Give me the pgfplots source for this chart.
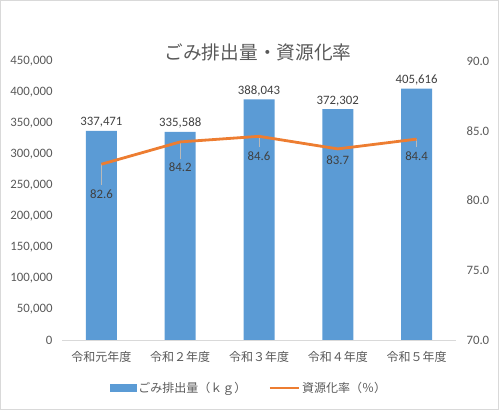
\documentclass[border=0pt]{standalone}
\usepackage{pgfplots}
\pgfplotsset{compat=1.18}
\usepackage{pgfplotstable}
\usepackage{fontspec}
\setmainfont{Carlito}
\newfontfamily\jp{Noto Sans CJK JP}
\definecolor{barblue}{HTML}{5B9BD5}
\definecolor{lineorange}{HTML}{ED7D31}
\definecolor{txt}{HTML}{595959}
\definecolor{lbl}{HTML}{404040}
\definecolor{framec}{HTML}{D9D9D9}

\pgfplotstableread{
x y
0 337471
1 335588
2 388043
3 372302
4 405616
}\bartable

\pgfplotstableread{
x y off e
0 82.6 30 1.51
1 84.2 25 1.22
2 84.6 20 0.79
3 83.7 11 0
4 84.4 17 0.57
}\ratetable

\begin{document}
\begin{tikzpicture}
\draw[framec, line width=1bp] (0.5bp,0.5bp) rectangle (498.5bp,409.5bp);
\node[font=\jp\fontsize{18.67bp}{22bp}\selectfont, text=txt] at (258bp,358bp) {ごみ排出量・資源化率};

\begin{axis}[
  at={(62bp,70bp)}, anchor=south west,
  scale only axis, width=394bp, height=279bp,
  xmin=-0.5, xmax=4.5, ymin=0, ymax=450000,
  xtick={0,1,2,3,4},
  xticklabels={令和元年度,令和２年度,令和３年度,令和４年度,令和５年度},
  ytick={0,50000,100000,150000,200000,250000,300000,350000,400000,450000},
  scaled y ticks=false,
  /pgf/number format/assume math mode=true,
  axis x line*=bottom, axis y line*=left,
  y axis line style={draw=none},
  x axis line style={draw=framec, line width=0.75bp, -},
  major tick length=0pt,
  tick label style={font=\fontsize{12.8bp}{14bp}\selectfont, text=txt},
  xticklabel style={font=\jp\fontsize{12bp}{14bp}\selectfont, yshift=-8bp},
  yticklabel style={xshift=-6bp, /pgf/number format/.cd, fixed, 1000 sep={,}},
  ybar, bar width=31bp,
  nodes near coords,
  nodes near coords style={font=\fontsize{12.8bp}{14bp}\selectfont, text=lbl, /pgf/number format/.cd, fixed, 1000 sep={,}},
]
\addplot[fill=barblue, draw=none] table[x=x, y=y] {\bartable};
\end{axis}

\begin{axis}[
  at={(62bp,70bp)}, anchor=south west,
  scale only axis, width=394bp, height=279bp,
  xmin=-0.5, xmax=4.5, ymin=70, ymax=90,
  axis x line=none, axis y line*=right,
  y axis line style={draw=none},
  ytick={70,75,80,85,90},
  major tick length=0pt,
  /pgf/number format/assume math mode=true,
  tick label style={font=\fontsize{12.8bp}{14bp}\selectfont, text=txt},
  yticklabel style={xshift=7bp, /pgf/number format/.cd, fixed, fixed zerofill, precision=1},
  legend style={at={(0.475,-0.172)}, anchor=center, draw=none, fill=none,
    font=\jp\fontsize{12bp}{14bp}\selectfont, text=txt,
    /tikz/every even column/.append style={column sep=20bp}},
  legend columns=2,
]
\addlegendimage{legend image code/.code={\fill[barblue] (0bp,-3.5bp) rectangle (26bp,3.5bp);}}
\addlegendentry{ごみ排出量（ｋｇ）}
\addplot[forget plot, draw=none, mark=none,
  error bars/.cd, y dir=minus, y explicit,
  error bar style={draw=gray!55, line width=0.6bp}, error mark=none]
  table[x=x, y=y, y error=e] {\ratetable};
\addplot[lineorange, line width=2.8bp, line join=round, mark=none,
  legend image code/.code={\draw[lineorange, line width=2.8bp] (0bp,0bp) -- (29bp,0bp);},
  visualization depends on={\thisrow{off} \as \myoff},
  nodes near coords,
  nodes near coords style={anchor=center, yshift=-\myoff bp, font=\fontsize{12.8bp}{14bp}\selectfont, text=lbl, /pgf/number format/.cd, fixed, fixed zerofill, precision=1}]
  table[x=x, y=y] {\ratetable};
\addlegendentry{資源化率（％）}
\end{axis}
\end{tikzpicture}
\end{document}
